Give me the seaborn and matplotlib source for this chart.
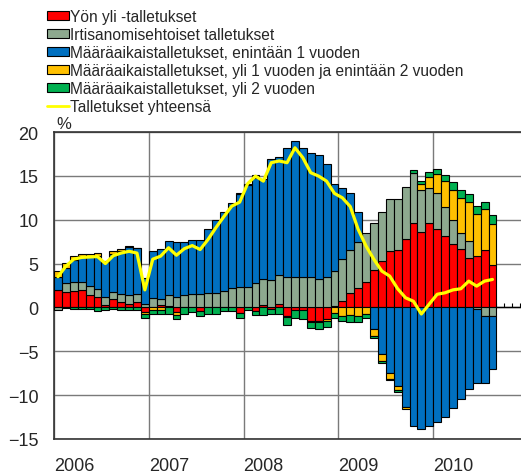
import numpy as np
import pandas as pd
import matplotlib
matplotlib.use("Agg")
import matplotlib.pyplot as plt
from matplotlib.patches import Patch
from matplotlib.lines import Line2D
import seaborn as sns

sns.set_style("white")
plt.rcParams['font.family'] = ['Liberation Sans', 'DejaVu Sans']

# monthly data Jan 2006 - Aug 2010, annual growth contributions, %
months = pd.date_range("2006-01-01", periods=56, freq="MS")
years = ["2006", "2007", "2008", "2009", "2010"]

yon_yli = [2.0, 1.75, 1.86, 1.95, 1.44, 1.18, 0.3, 0.91, 0.65, 0.38, 0.65, -0.55,
           0.0, 0.25, 0.2, -0.55, 0.08, 0.05, -0.45, 0.05, 0.05, 0.1, 0.05, -0.6,
           0.1, -0.4, 0.3, -0.15, 0.35, -1.0, -0.25, -0.35, -1.5, -1.5, -1.3, 0.15,
           0.72, 1.67, 2.24, 2.89, 4.22, 5.28, 6.42, 6.5, 7.83, 9.65, 8.63, 9.65,
           8.9, 8.2, 7.26, 6.7, 5.66, 5.85, 6.5, 4.79]
irtisanomis = [-0.3, 1.0, 1.0, 1.0, 1.0, 0.95, 0.92, 0.88, 0.9, 1.03, 0.83, 0.42,
               1.1, 0.66, 1.17, 1.22, 1.29, 1.43, 1.48, 1.62, 1.62, 1.76, 2.19, 2.32,
               2.22, 2.74, 2.89, 3.12, 3.34, 3.46, 3.46, 3.46, 3.46, 3.27, 3.46, 3.99,
               4.75, 4.93, 5.21, 5.55, 5.43, 5.62, 5.97, 5.89, 5.87, 5.71, 4.71, 4.0,
               4.1, 3.28, 2.69, 1.74, 1.9, -0.2, -0.99, -1.03]
enint_1v = [1.45, 1.8, 2.6, 2.9, 3.4, 3.7, 4.0, 4.3, 4.9, 5.5, 5.3, 2.95,
            5.3, 5.78, 6.16, 6.23, 6.12, 6.2, 6.16, 7.3, 8.25, 9.05, 9.69, 10.6,
            11.6, 12.06, 11.41, 13.78, 13.51, 14.74, 15.51, 14.74, 14.1, 14.1, 12.94, 9.96,
            8.18, 6.4, 3.42, 0.0, -2.43, -5.28, -7.45, -8.97, -11.37, -13.53, -13.84, -13.53,
            -13.08, -12.5, -11.44, -10.49, -9.35, -8.39, -7.6, -6.04]
yli_1_2v = [0.7, 0.55, 0.45, 0.25, 0.3, 0.4, 0.1, 0.35, 0.25, 0.08, 0.05, -0.2,
            -0.3, -0.3, 0.0, -0.3, 0.0, 0.0, 0.0, 0.0, 0.0, 0.0, 0.0, 0.15,
            0.2, 0.25, 0.0, 0.0, 0.0, -0.1, 0.0, 0.0, -0.2, -0.2, -0.3, -0.6,
            -0.95, -0.85, -0.95, -0.8, -0.84, -0.84, -0.68, -0.5, -0.18, 0.0, 0.76, 1.21,
            2.17, 2.92, 3.43, 3.99, 4.44, 4.75, 4.75, 4.76]
yli_2v = [0.0, -0.1, -0.2, -0.2, -0.2, -0.4, -0.25, -0.2, -0.3, -0.35, -0.3, -0.5,
          -0.5, -0.45, -0.7, -0.5, -0.7, -0.5, -0.55, -0.75, -0.75, -0.45, -0.4, -0.6,
          -0.25, -0.5, -0.9, -0.55, -0.8, -0.85, -1.0, -0.95, -0.7, -0.8, -0.6, -0.6,
          -0.6, -0.8, -0.7, -0.4, -0.26, -0.18, -0.16, -0.15, 0.0, 0.3, 0.3, 0.57,
          0.64, 0.69, 0.95, 0.91, 0.96, 0.95, 0.8, 0.95]
yhteensa = [3.5, 4.7, 5.5, 5.7, 5.75, 5.8, 5.0, 5.9, 6.2, 6.4, 6.2, 2.0,
            5.5, 5.85, 6.8, 5.95, 6.7, 7.05, 6.6, 7.75, 9.1, 10.35, 11.55, 12.0,
            14.1, 14.97, 14.4, 16.5, 16.7, 16.5, 18.2, 17.07, 15.36, 14.97, 14.4, 13.0,
            12.5, 11.5, 8.9, 7.0, 5.47, 4.14, 3.57, 2.13, 1.1, 0.7, -0.75, 0.38,
            1.5, 1.67, 2.0, 2.13, 3.0, 2.43, 3.0, 3.19]

series = [
    (yon_yli, "#FF0000", "Yön yli -talletukset"),
    (irtisanomis, "#8DA98F", "Irtisanomisehtoiset talletukset"),
    (enint_1v, "#0070C0", "Määräaikaistalletukset, enintään 1 vuoden"),
    (yli_1_2v, "#FFC000", "Määräaikaistalletukset, yli 1 vuoden ja enintään 2 vuoden"),
    (yli_2v, "#00B050", "Määräaikaistalletukset, yli 2 vuoden"),
]
line_label = "Talletukset yhteensä"

fig = plt.figure(figsize=(5.21, 4.77), dpi=100)
ax = fig.add_axes([54 / 521, 1 - 440 / 477, 474 / 521, 307 / 477])

x = np.arange(len(months))
pos_bottom = np.zeros(len(x))
neg_bottom = np.zeros(len(x))
for vals, color, label in series:
    v = np.array(vals, dtype=float)
    m = v > 0
    ax.bar(x[m], v[m], bottom=pos_bottom[m], width=1.0, color=color,
           edgecolor="black", linewidth=0.8, zorder=3)
    n = v < 0
    ax.bar(x[n], v[n], bottom=neg_bottom[n], width=1.0, color=color,
           edgecolor="black", linewidth=0.8, zorder=3)
    pos_bottom[m] += v[m]
    neg_bottom[n] += v[n]

df = pd.DataFrame({"x": x, "total": yhteensa})
sns.lineplot(data=df, x="x", y="total", color="#FFFF00", linewidth=2.3, ax=ax, zorder=5)

# zero axis with monthly ticks
ax.axhline(0, color="black", linewidth=1.0, zorder=2)
edges = np.arange(-0.5, 60, 1.0)
ax.vlines(edges, 0, 0.5, color="black", linewidth=0.8, zorder=2)

ax.set_xlim(-0.5, 59.5)
ax.set_ylim(-15, 20)
ax.set_yticks(range(-15, 21, 5))
year_pos = np.arange(len(years)) * 12 - 0.5
ax.set_xticks(year_pos)
ax.set_xticklabels(years, ha="left")
ax.tick_params(axis="x", length=0, pad=13, labelsize=13)
ax.tick_params(axis="y", length=0, pad=11, labelsize=13)
ax.set_xlabel("")
ax.set_ylabel("")
ax.grid(True, color="#7a7a7a", linewidth=1.0, zorder=0)
ax.set_axisbelow(True)
for side in ["top", "left", "bottom"]:
    ax.spines[side].set_color("#333333")
    ax.spines[side].set_linewidth(1.2)
ax.spines["right"].set_visible(False)

ax.annotate("%", xy=(0, 1), xycoords="axes fraction", xytext=(2, 1),
            textcoords="offset points", ha="left", va="bottom", fontsize=12)

handles = [Patch(facecolor=c, edgecolor="black", linewidth=0.8, label=l) for _, c, l in series]
handles.append(Line2D([0], [0], color="#FFFF00", linewidth=2.0, label=line_label))
fig.legend(handles=handles, loc="upper left", bbox_to_anchor=(47 / 521, 1 - 10 / 477),
           frameon=False, fontsize=11.2, handlelength=1.4, handleheight=0.55,
           handletextpad=0.1, labelspacing=0.19, borderpad=0, borderaxespad=0)

fig.savefig("out.png", dpi=100)
